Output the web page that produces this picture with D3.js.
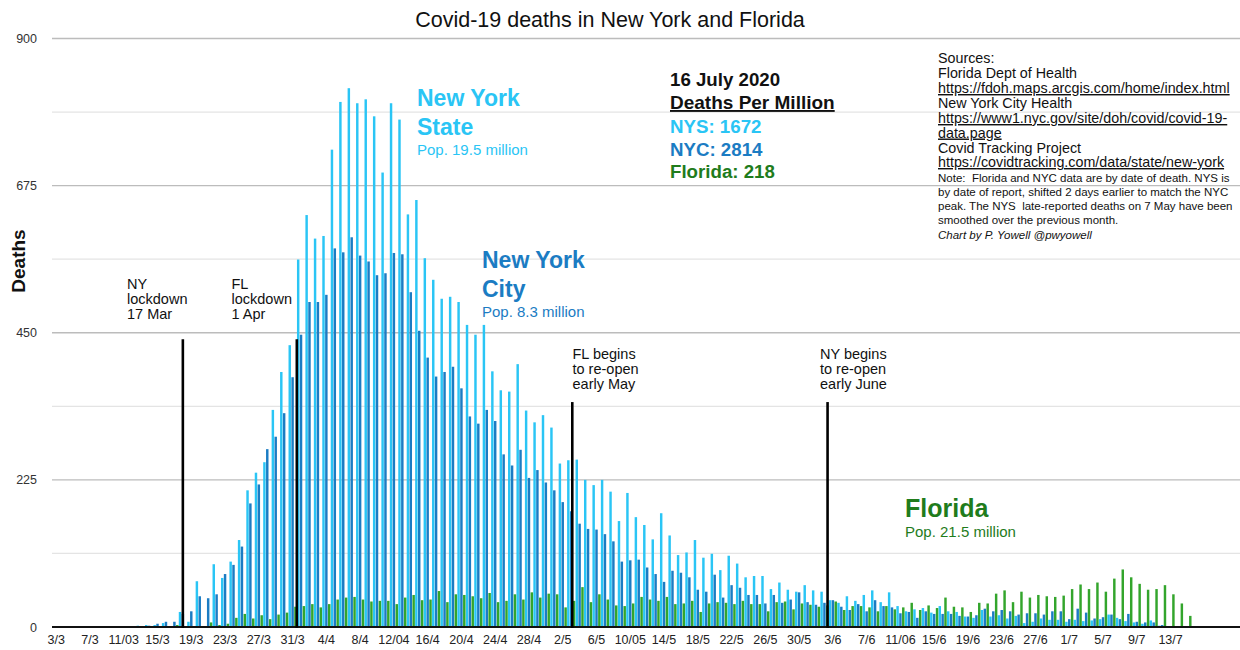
<!DOCTYPE html>
<html><head><meta charset="utf-8">
<script src="https://cdn.jsdelivr.net/npm/d3@7"></script>
<style>
body{margin:0;background:#fff}
svg text{font-family:Helvetica,"Liberation Sans",Arial,sans-serif}
</style>
</head><body>
<svg id="chart" width="1240" height="650"></svg>
<script>
// ---------------- DATA ----------------
const categories = [
 "3/3","4/3","5/3","6/3","7/3","8/3","9/3","10/3","11/3","12/3","13/3","14/3","15/3","16/3","17/3","18/3","19/3","20/3","21/3","22/3","23/3","24/3","25/3","26/3","27/3","28/3","29/3","30/3","31/3",
 "1/4","2/4","3/4","4/4","5/4","6/4","7/4","8/4","9/4","10/4","11/4","12/4","13/4","14/4","15/4","16/4","17/4","18/4","19/4","20/4","21/4","22/4","23/4","24/4","25/4","26/4","27/4","28/4","29/4","30/4",
 "1/5","2/5","3/5","4/5","5/5","6/5","7/5","8/5","9/5","10/5","11/5","12/5","13/5","14/5","15/5","16/5","17/5","18/5","19/5","20/5","21/5","22/5","23/5","24/5","25/5","26/5","27/5","28/5","29/5","30/5","31/5",
 "1/6","2/6","3/6","4/6","5/6","6/6","7/6","8/6","9/6","10/6","11/6","12/6","13/6","14/6","15/6","16/6","17/6","18/6","19/6","20/6","21/6","22/6","23/6","24/6","25/6","26/6","27/6","28/6","29/6","30/6",
 "1/7","2/7","3/7","4/7","5/7","6/7","7/7","8/7","9/7","10/7","11/7","12/7","13/7","14/7","15/7","16/7","17/7","18/7","19/7","20/7","21/7"
];
const nysDeaths = [
 0,0,0,0,0,0,0,0,0,0,2,3,3,6,1,23,8,70,0,96,75,100,133,209,236,252,332,390,431,
 562,630,594,598,730,803,824,801,807,781,695,801,776,631,653,564,531,502,505,497,462,447,462,391,362,360,402,331,313,324,
 305,250,255,256,225,217,225,207,162,205,168,156,134,174,140,110,114,133,106,112,87,109,97,76,78,78,58,68,57,54,64,
 56,54,41,37,47,40,49,56,38,53,32,24,27,29,22,32,24,23,16,14,26,16,18,13,17,6,8,13,11,11,
 8,11,9,10,12,19,14,9,7,5,10,2,0,0,0,0,0,0,0,0,0
];
const nycDeaths = [
 0,0,0,0,0,0,0,0,0,0,0,2,5,8,8,20,24,47,44,50,81,95,123,189,218,272,291,327,382,
 447,497,497,508,579,573,596,568,559,538,541,572,570,512,453,412,383,390,398,365,322,311,332,315,264,247,271,228,240,221,
 209,191,177,158,150,149,142,131,100,102,103,91,81,69,86,83,76,57,54,80,45,64,60,49,49,36,49,37,42,53,38,
 34,37,41,31,26,35,24,41,32,30,21,23,14,24,20,20,20,17,16,18,28,24,26,24,19,21,21,19,24,24,
 12,28,22,13,15,19,12,20,8,7,7,3,1,0,0,0,0,0,0,0,0
];
const flDeaths = [
 0,0,0,0,0,0,0,0,0,0,0,1,1,0,3,1,1,1,7,3,5,14,20,13,18,12,19,22,31,
 32,35,30,35,42,45,46,42,39,40,40,35,45,49,41,42,55,38,50,49,47,44,52,38,40,50,42,53,45,51,
 50,30,40,61,38,50,42,33,32,36,46,42,40,46,35,36,40,23,36,38,37,35,40,35,35,24,38,39,27,36,34,
 31,33,39,26,32,32,30,24,32,27,30,37,26,33,29,45,31,30,23,37,36,51,56,38,54,45,49,47,46,48,
 58,65,58,68,54,74,88,76,66,57,58,64,50,36,17,0,0,0,0,0,0
];
const seriesNames = ["NYS","NYC","Florida"];
const yTickValues = [0,225,450,675,900];
const yMinorValues = [112.5,337.5,562.5,787.5];
const xTickCats = ["3/3","7/3","11/3","15/3","19/3","23/3","27/3","31/3","4/4","8/4","12/4","16/4","20/4","24/4","28/4","2/5","6/5","10/5","14/5","18/5","22/5","26/5","30/5","3/6","7/6","11/6","15/6","19/6","23/6","27/6","1/7","5/7","9/7","13/7"];
const xTickLabels = ["3/3","7/3","11/03","15/3","19/3","23/3","27/3","31/3","4/4","8/4","12/04","16/4","20/4","24/4","28/4","2/5","6/5","10/05","14/5","18/5","22/5","26/5","30/5","3/6","7/6","11/06","15/6","19/6","23/6","27/6","1/7","5/7","9/7","13/7"];

// ---------------- STYLE / LAYOUT ----------------
const colors = {NYS:"#2ac5f5", NYC:"#1b7cc3", Florida:"#33a52c"};
const labelColors = {NYS:"#2ac5f5", NYC:"#1b7cc3", Florida:"#1f7c1c"};
const left = 52, dayW = 8.442, plotRight = 1240;
const svg = d3.select("#chart");

const x = d3.scaleBand().domain(categories).range([left, left + categories.length*dayW]).padding(0);
const x1 = d3.scaleBand().domain(seriesNames).range([0, x.bandwidth()]).paddingInner(0.14).paddingOuter(0.05);
const y = d3.scaleLinear().domain([0,900]).range([627, 38.5]);

// gridlines
svg.append("g").selectAll("line").data(yMinorValues).join("line")
  .attr("x1", left).attr("x2", plotRight).attr("y1", d=>y(d)).attr("y2", d=>y(d))
  .attr("stroke","#e4e4e4").attr("stroke-width",1.2);
svg.append("g").selectAll("line").data(yTickValues.filter(v=>v>0)).join("line")
  .attr("x1", left).attr("x2", plotRight).attr("y1", d=>y(d)).attr("y2", d=>y(d))
  .attr("stroke","#bcbcbc").attr("stroke-width",1.3);

// bars
const seriesData = {NYS:nysDeaths, NYC:nycDeaths, Florida:flDeaths};
seriesNames.forEach(name => {
  svg.append("g").selectAll("rect").data(categories.map((c,i)=>({c, v:seriesData[name][i]})))
    .join("rect")
    .attr("x", d => x(d.c) + x1(name))
    .attr("width", x1.bandwidth())
    .attr("y", d => y(d.v))
    .attr("height", d => y(0) - y(d.v))
    .attr("fill", colors[name]);
});

// baseline
svg.append("line").attr("x1", left).attr("x2", plotRight).attr("y1", y(0)).attr("y2", y(0))
  .attr("stroke","#111").attr("stroke-width",2);

// y axis
const yAxis = svg.append("g").attr("transform", `translate(${left},0)`)
  .call(d3.axisLeft(y).tickValues(yTickValues).tickSize(0).tickPadding(15).tickFormat(d3.format("d")));
yAxis.select(".domain").remove();
yAxis.selectAll("text").attr("font-size", 12.5).attr("fill","#333")
  .style("font-family",'Helvetica,"Liberation Sans",Arial,sans-serif');

// x axis
const xAxis = svg.append("g").attr("transform", `translate(0,${y(0)})`)
  .call(d3.axisBottom(x).tickValues(xTickCats).tickSize(0).tickPadding(8)
    .tickFormat(d => xTickLabels[xTickCats.indexOf(d)]));
xAxis.select(".domain").remove();
xAxis.selectAll("text").attr("font-size", 12.5).attr("fill","#222")
  .style("font-family",'Helvetica,"Liberation Sans",Arial,sans-serif');

// y title
svg.append("text").attr("transform","translate(25,261) rotate(-90)")
  .attr("text-anchor","middle").attr("font-size",19).attr("font-weight","bold").attr("fill","#111")
  .text("Deaths");

// title
svg.append("text").attr("x", 610).attr("y", 27).attr("text-anchor","middle")
  .attr("font-size", 21.5).attr("fill","#111").text("Covid-19 deaths in New York and Florida");

// event annotations
const events = [
  {cat:"18/3", frac:0.5,  top:440, tx:127,   ty:289, lines:["NY","lockdown","17 Mar"]},
  {cat:"31/3", frac:1.0,  top:440, tx:231.5, ty:289, lines:["FL","lockdown","1 Apr"]},
  {cat:"3/5",  frac:0.63, top:344, tx:572.5, ty:359, lines:["FL begins","to re-open","early May"]},
  {cat:"2/6",  frac:0.87, top:344, tx:820,   ty:359, lines:["NY begins","to re-open","early June"]}
];
events.forEach(e => {
  const ex = x(e.cat) + e.frac * x.bandwidth();
  svg.append("line").attr("x1", ex).attr("x2", ex).attr("y1", y(e.top)).attr("y2", y(0)+1)
    .attr("stroke","#000").attr("stroke-width",2.6);
  const t = svg.append("text").attr("font-size",14.5).attr("fill","#111");
  e.lines.forEach((l,i)=> t.append("tspan").attr("x", e.tx).attr("y", e.ty + i*15.2).text(l));
});

// text blocks
function block(xp, lines){
  lines.forEach(l => {
    svg.append("text").attr("x", xp).attr("y", l.y).attr("font-size", l.size)
      .attr("font-weight", l.bold ? "bold" : "normal").attr("fill", l.color)
      .style("text-decoration", l.underline ? "underline" : "none")
      .style("font-style", l.italic ? "italic" : "normal")
      .style("white-space","pre")
      .text(l.text);
  });
}
block(417, [
  {text:"New York", y:106, size:23, bold:true, color:labelColors.NYS},
  {text:"State", y:135, size:23, bold:true, color:labelColors.NYS},
  {text:"Pop. 19.5 million", y:155, size:15, color:labelColors.NYS}
]);
block(482, [
  {text:"New York", y:268, size:23, bold:true, color:labelColors.NYC},
  {text:"City", y:297, size:23, bold:true, color:labelColors.NYC},
  {text:"Pop. 8.3 million", y:317, size:15, color:labelColors.NYC}
]);
block(905, [
  {text:"Florida", y:517, size:25, bold:true, color:labelColors.Florida},
  {text:"Pop. 21.5 million", y:537, size:15, color:labelColors.Florida}
]);
block(670, [
  {text:"16 July 2020", y:86, size:18.7, bold:true, color:"#111"},
  {text:"Deaths Per Million", y:109, size:19, bold:true, color:"#111", underline:true},
  {text:"NYS: 1672", y:133, size:18.7, bold:true, color:labelColors.NYS},
  {text:"NYC: 2814", y:156, size:18.7, bold:true, color:labelColors.NYC},
  {text:"Florida: 218", y:178, size:18.7, bold:true, color:labelColors.Florida}
]);
block(938, [
  {text:"Sources:", y:63, size:14.3, color:"#111"},
  {text:"Florida Dept of Health", y:78, size:14.3, color:"#111"},
  {text:"https://fdoh.maps.arcgis.com/home/index.html", y:93, size:14.3, color:"#111", underline:true},
  {text:"New York City Health", y:108, size:14.3, color:"#111"},
  {text:"https://www1.nyc.gov/site/doh/covid/covid-19-", y:123, size:14.3, color:"#111", underline:true},
  {text:"data.page", y:137.5, size:14.3, color:"#111", underline:true},
  {text:"Covid Tracking Project", y:152.5, size:14.3, color:"#111"},
  {text:"https://covidtracking.com/data/state/new-york", y:167, size:14.3, color:"#111", underline:true},
  {text:"Note:  Florida and NYC data are by date of death. NYS is", y:182, size:11.5, color:"#111"},
  {text:"by date of report, shifted 2 days earlier to match the NYC", y:196, size:11.5, color:"#111"},
  {text:"peak. The NYS  late-reported deaths on 7 May have been", y:210, size:11.5, color:"#111"},
  {text:"smoothed over the previous month.", y:224, size:11.5, color:"#111"},
  {text:"Chart by P. Yowell @pwyowell", y:238.5, size:11.5, color:"#111", italic:true}
]);
</script>
</body></html>
